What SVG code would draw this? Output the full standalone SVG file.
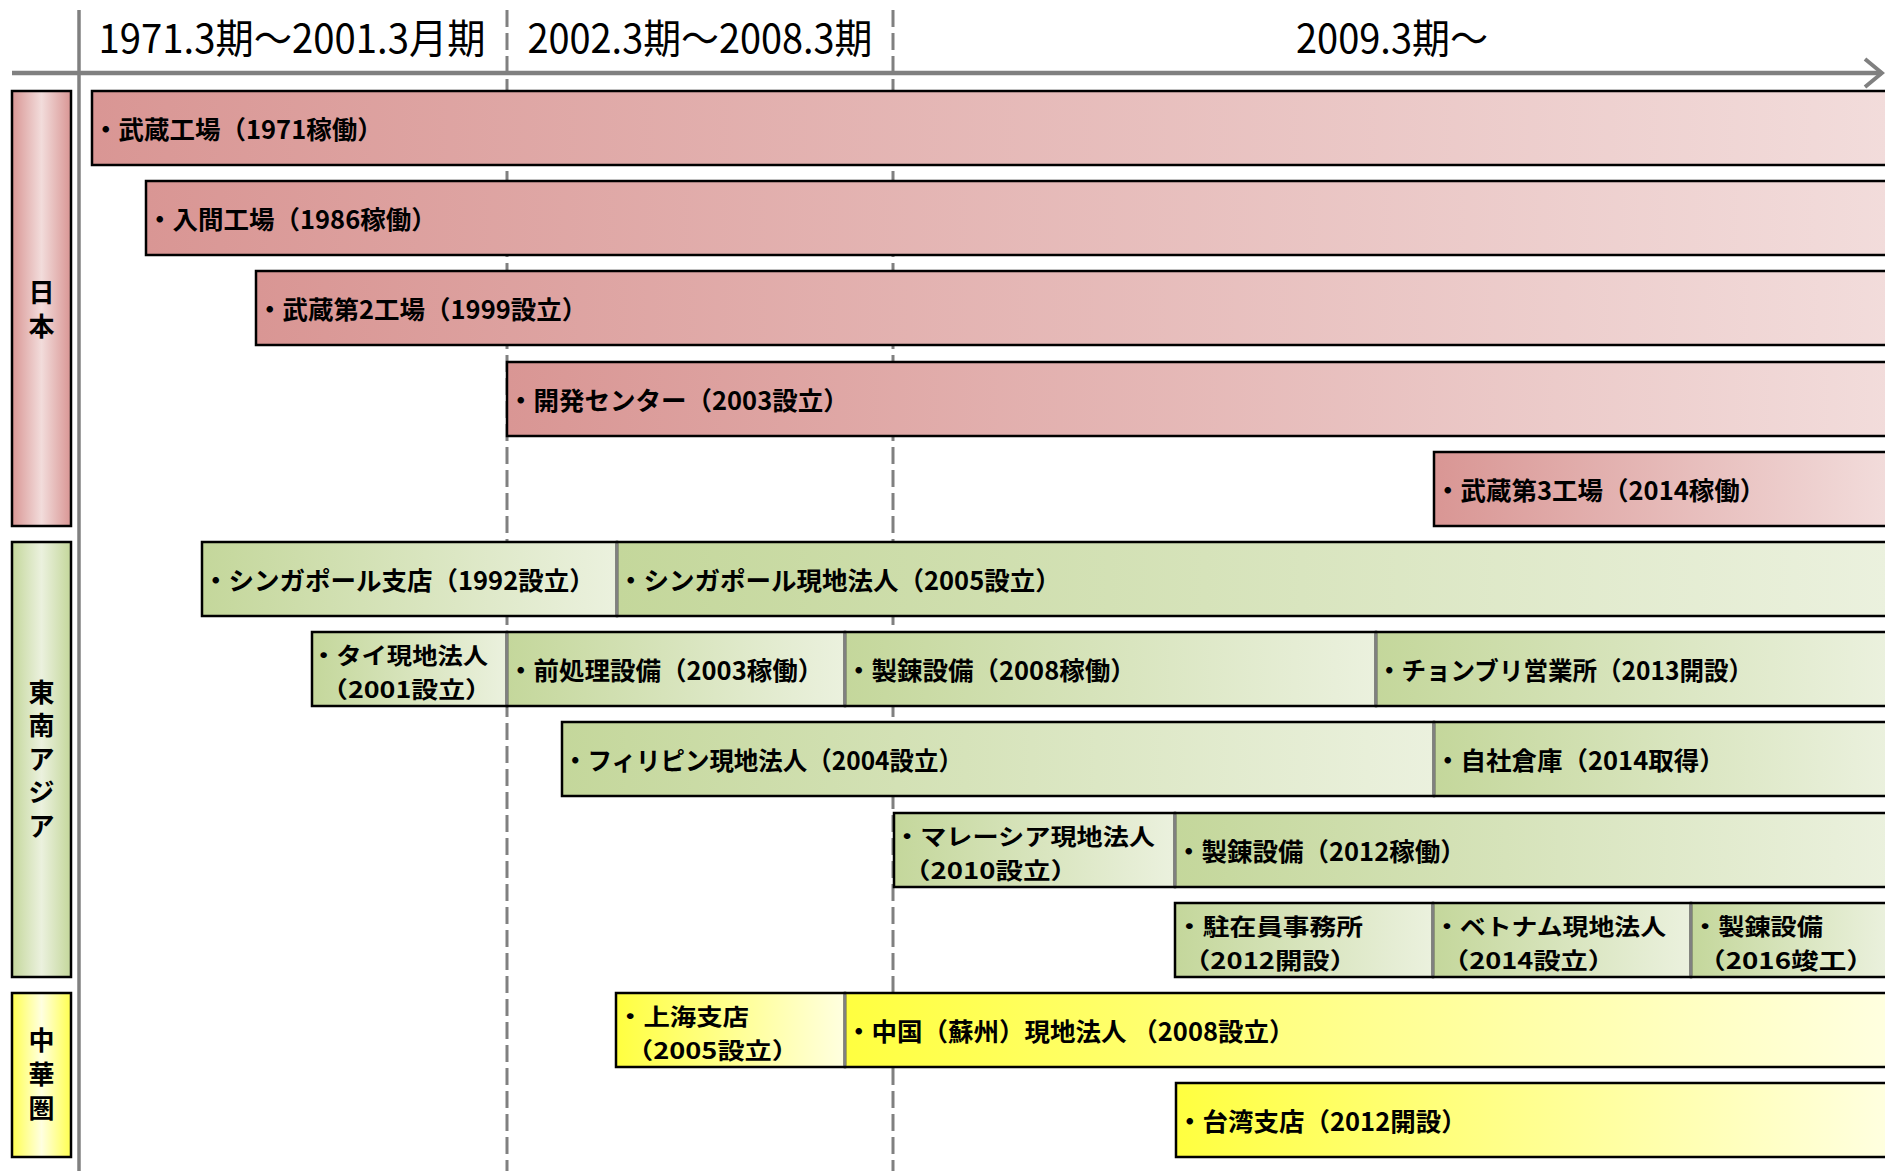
<svg xmlns="http://www.w3.org/2000/svg" width="1885" height="1171" viewBox="0 0 1885 1171">
<defs>
<linearGradient id="gPink" x1="0" y1="0" x2="1" y2="0"><stop offset="0" stop-color="#D99694"/><stop offset="1" stop-color="#F2DCDB"/></linearGradient>
<linearGradient id="gGreen" x1="0" y1="0" x2="1" y2="0"><stop offset="0" stop-color="#C4D79B"/><stop offset="1" stop-color="#EBF1DE"/></linearGradient>
<linearGradient id="gYellow" x1="0" y1="0" x2="1" y2="0"><stop offset="0" stop-color="#FFFF40"/><stop offset="1" stop-color="#FFFFE0"/></linearGradient>
<linearGradient id="cPink" x1="0" y1="0" x2="1" y2="0"><stop offset="0" stop-color="#D99694"/><stop offset="0.5" stop-color="#F2DCDB"/><stop offset="1" stop-color="#D99694"/></linearGradient>
<linearGradient id="cGreen" x1="0" y1="0" x2="1" y2="0"><stop offset="0" stop-color="#C4D79B"/><stop offset="0.5" stop-color="#EBF1DE"/><stop offset="1" stop-color="#C4D79B"/></linearGradient>
<linearGradient id="cYellow" x1="0" y1="0" x2="1" y2="0"><stop offset="0" stop-color="#FFFF50"/><stop offset="0.5" stop-color="#FFFFE0"/><stop offset="1" stop-color="#FFFF50"/></linearGradient>
</defs>
<style>
.bar{stroke:#000;stroke-width:2.5}
.p{fill:url(#gPink)}
.g{fill:url(#gGreen)}
.y{fill:url(#gYellow)}
.dv{stroke:#808080;stroke-width:2.5}
.t{font-family:"Noto Sans CJK JP","Noto Sans CJK SC",sans-serif;font-size:25.5px;font-weight:bold;fill:#000}
.t2{font-family:"Noto Sans CJK JP","Noto Sans CJK SC",sans-serif;font-size:23px;font-weight:bold;fill:#000}
.h{font-family:"Noto Sans CJK JP","Noto Sans CJK SC",sans-serif;font-size:40px;fill:#000;text-anchor:middle}
.c{font-family:"Noto Sans CJK JP","Noto Sans CJK SC",sans-serif;font-size:26px;font-weight:bold;fill:#000;text-anchor:middle}
.ax{stroke:#808080;fill:none}
.dash{stroke:#808080;stroke-width:3;stroke-dasharray:17 6}
</style>
<rect x="0" y="0" width="1885" height="1171" fill="#fff"/>
<g id="connectors">
<line class="ax" x1="79" y1="10" x2="79" y2="1171" stroke-width="3.5"/>
<line class="dash" x1="507" y1="10" x2="507" y2="1171"/>
<line class="dash" x1="893" y1="10" x2="893" y2="1171"/>
<line class="ax" x1="12" y1="73" x2="1882" y2="73" stroke-width="4.5"/>
<polyline class="ax" points="1865,59 1882,73 1865,87" stroke-width="4"/>
</g>
<g id="headers">
<text class="h" x="292" y="53" textLength="387" lengthAdjust="spacingAndGlyphs">1971.3期～2001.3月期</text>
<text class="h" x="700" y="53" textLength="345" lengthAdjust="spacingAndGlyphs">2002.3期～2008.3期</text>
<text class="h" x="1392" y="53" textLength="192" lengthAdjust="spacingAndGlyphs">2009.3期～</text>
</g>
<g id="cat-japan">
<rect class="bar" x="12" y="91" width="59" height="435" fill="url(#cPink)"/>
<text class="c" x="41.5" y="302">日</text><text class="c" x="41.5" y="336">本</text>
</g>
<g id="cat-sea">
<rect class="bar" x="12" y="542" width="59" height="435" fill="url(#cGreen)"/>
<text class="c" x="41.5" y="701.5">東</text><text class="c" x="41.5" y="735">南</text><text class="c" x="41.5" y="768.5">ア</text><text class="c" x="41.5" y="802">ジ</text><text class="c" x="41.5" y="835.5">ア</text>
</g>
<g id="cat-china">
<rect class="bar" x="12" y="993" width="59" height="164" fill="url(#cYellow)"/>
<text class="c" x="41.5" y="1050">中</text><text class="c" x="41.5" y="1084">華</text><text class="c" x="41.5" y="1118">圏</text>
</g>
<g id="musashi1">
<rect class="bar p" x="92" y="91" width="1798" height="74"/>
<text class="t" x="93" y="139">・武蔵工場（1971稼働）</text>
</g>
<g id="iruma">
<rect class="bar p" x="146" y="181" width="1744" height="74"/>
<text class="t" x="147" y="229">・入間工場（1986稼働）</text>
</g>
<g id="musashi2">
<rect class="bar p" x="256" y="271" width="1634" height="74"/>
<text class="t" x="257" y="319">・武蔵第2工場（1999設立）</text>
</g>
<g id="devcenter">
<rect class="bar p" x="507" y="362" width="1383" height="74"/>
<text class="t" x="508" y="410">・開発センター（2003設立）</text>
</g>
<g id="musashi3">
<rect class="bar p" x="1434" y="452" width="456" height="74"/>
<text class="t" x="1435" y="500">・武蔵第3工場（2014稼働）</text>
</g>
<g id="sg-branch">
<rect class="bar g" x="202" y="542" width="415" height="74"/>
<text class="t" x="203" y="590">・シンガポール支店（1992設立）</text>
</g>
<g id="sg-sub">
<rect class="bar g" x="617" y="542" width="1273" height="74"/>
<line class="dv" x1="617" y1="543.3" x2="617" y2="614.7"/>
<text class="t" x="618" y="590">・シンガポール現地法人（2005設立）</text>
</g>
<g id="th-sub">
<rect class="bar g" x="312" y="632" width="195" height="74"/>
<text class="t2"><tspan x="311" y="664" textLength="177" lengthAdjust="spacingAndGlyphs">・タイ現地法人</tspan><tspan x="321" y="697.5" textLength="171" lengthAdjust="spacingAndGlyphs">（2001設立）</tspan></text>
</g>
<g id="th-pre">
<rect class="bar g" x="507" y="632" width="338" height="74"/>
<line class="dv" x1="507" y1="633.3" x2="507" y2="704.7"/>
<text class="t" x="508" y="680">・前処理設備（2003稼働）</text>
</g>
<g id="th-refine">
<rect class="bar g" x="845" y="632" width="531" height="74"/>
<line class="dv" x1="845" y1="633.3" x2="845" y2="704.7"/>
<text class="t" x="846" y="680">・製錬設備（2008稼働）</text>
</g>
<g id="th-chonburi">
<rect class="bar g" x="1376" y="632" width="514" height="74"/>
<line class="dv" x1="1376" y1="633.3" x2="1376" y2="704.7"/>
<text class="t" x="1377" y="680" textLength="376" lengthAdjust="spacingAndGlyphs">・チョンブリ営業所（2013開設）</text>
</g>
<g id="ph-sub">
<rect class="bar g" x="562" y="722" width="872" height="74"/>
<text class="t" x="563" y="770" textLength="400" lengthAdjust="spacingAndGlyphs">・フィリピン現地法人（2004設立）</text>
</g>
<g id="ph-warehouse">
<rect class="bar g" x="1434" y="722" width="456" height="74"/>
<line class="dv" x1="1434" y1="723.3" x2="1434" y2="794.7"/>
<text class="t" x="1435" y="770">・自社倉庫（2014取得）</text>
</g>
<g id="my-sub">
<rect class="bar g" x="894" y="813" width="281" height="74"/>
<text class="t2"><tspan x="894" y="845" textLength="261" lengthAdjust="spacingAndGlyphs">・マレーシア現地法人</tspan><tspan x="903" y="878.5" textLength="175" lengthAdjust="spacingAndGlyphs">（2010設立）</tspan></text>
</g>
<g id="my-refine">
<rect class="bar g" x="1175" y="813" width="715" height="74"/>
<line class="dv" x1="1175" y1="814.3" x2="1175" y2="885.7"/>
<text class="t" x="1176" y="861">・製錬設備（2012稼働）</text>
</g>
<g id="vn-office">
<rect class="bar g" x="1175" y="903" width="258" height="74"/>
<text class="t2"><tspan x="1176" y="935" textLength="187" lengthAdjust="spacingAndGlyphs">・駐在員事務所</tspan><tspan x="1183" y="968.5" textLength="174" lengthAdjust="spacingAndGlyphs">（2012開設）</tspan></text>
</g>
<g id="vn-sub">
<rect class="bar g" x="1433" y="903" width="258" height="74"/>
<line class="dv" x1="1433" y1="904.3" x2="1433" y2="975.7"/>
<text class="t2"><tspan x="1434" y="935" textLength="232" lengthAdjust="spacingAndGlyphs">・ベトナム現地法人</tspan><tspan x="1442" y="968.5" textLength="173" lengthAdjust="spacingAndGlyphs">（2014設立）</tspan></text>
</g>
<g id="vn-refine">
<rect class="bar g" x="1691" y="903" width="199" height="74"/>
<line class="dv" x1="1691" y1="904.3" x2="1691" y2="975.7"/>
<text class="t2"><tspan x="1692" y="935" textLength="131" lengthAdjust="spacingAndGlyphs">・製錬設備</tspan><tspan x="1698" y="968.5" textLength="176" lengthAdjust="spacingAndGlyphs">（2016竣工）</tspan></text>
</g>
<g id="cn-shanghai">
<rect class="bar y" x="616" y="993" width="229" height="74"/>
<text class="t2"><tspan x="617" y="1025" textLength="132" lengthAdjust="spacingAndGlyphs">・上海支店</tspan><tspan x="626" y="1058.5" textLength="173" lengthAdjust="spacingAndGlyphs">（2005設立）</tspan></text>
</g>
<g id="cn-suzhou">
<rect class="bar y" x="845" y="993" width="1045" height="74"/>
<line class="dv" x1="845" y1="994.3" x2="845" y2="1065.7"/>
<text class="t" x="846" y="1041">・中国（蘇州）現地法人 （2008設立）</text>
</g>
<g id="tw-branch">
<rect class="bar y" x="1176" y="1083" width="714" height="74"/>
<text class="t" x="1177" y="1131">・台湾支店（2012開設）</text>
</g>
</svg>
